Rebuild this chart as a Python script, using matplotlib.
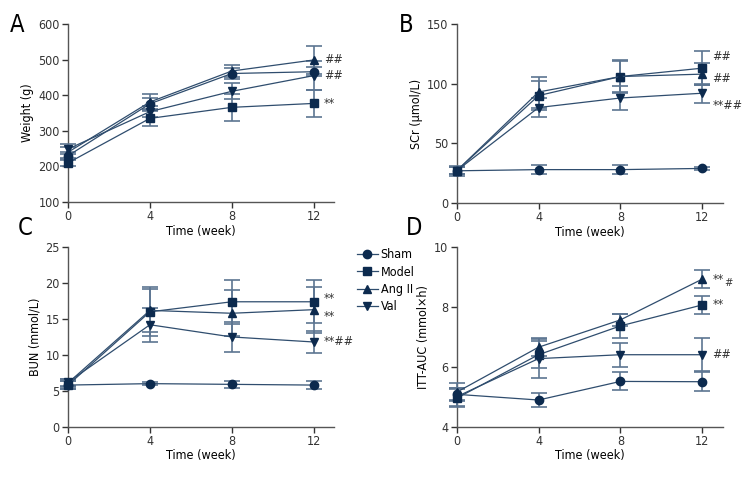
import matplotlib.pyplot as plt
import matplotlib
import numpy as np

matplotlib.rcParams['font.family'] = ['Liberation Sans Narrow', 'DejaVu Sans']
matplotlib.rcParams['font.stretch'] = 'condensed'

weeks = [0, 4, 8, 12]
groups = ['Sham', 'Model', 'Ang II', 'Val']
markers = {'Sham': 'o', 'Model': 's', 'Ang II': '^', 'Val': 'v'}

# Weight (g)
weight_mean = {'Sham': [230, 376, 461, 466],
               'Model': [210, 335, 366, 377],
               'Ang II': [240, 381, 468, 499],
               'Val': [249, 354, 411, 455]}
weight_err = {'Sham': [12, 15, 15, 12],
              'Model': [10, 22, 38, 39],
              'Ang II': [15, 22, 18, 38],
              'Val': [15, 15, 22, 40]}

# SCr (umol/L)
scr_mean = {'Sham': [27, 28, 28, 29],
            'Model': [27, 90, 106, 113],
            'Ang II': [27, 93, 106, 108],
            'Val': [27, 80, 88, 92]}
scr_err = {'Sham': [4, 4, 4, 1],
           'Model': [3, 12, 13, 14],
           'Ang II': [3, 13, 14, 9],
           'Val': [3, 8, 10, 8]}

# BUN (mmol/L)
bun_mean = {'Sham': [5.8, 6.0, 5.9, 5.8],
            'Model': [5.8, 16.0, 17.4, 17.4],
            'Ang II': [6.1, 16.2, 15.8, 16.3],
            'Val': [6.2, 14.2, 12.5, 11.8]}
bun_err = {'Sham': [0.6, 0.2, 0.5, 0.6],
           'Model': [0.5, 3.4, 3.1, 3.0],
           'Ang II': [0.5, 3.0, 3.2, 3.2],
           'Val': [0.5, 2.4, 2.1, 1.5]}

# ITT-AUC (mmol x h)
itt_mean = {'Sham': [5.08, 4.89, 5.51, 5.50],
            'Model': [4.95, 6.40, 7.36, 8.06],
            'Ang II': [5.15, 6.65, 7.56, 8.92],
            'Val': [5.00, 6.27, 6.40, 6.40]}
itt_err = {'Sham': [0.2, 0.22, 0.3, 0.32],
           'Model': [0.3, 0.45, 0.4, 0.3],
           'Ang II': [0.3, 0.3, 0.2, 0.3],
           'Val': [0.3, 0.65, 0.4, 0.55]}

# significance marks at week 12: (y, text)
weight_sig = [(500, '##'), (455, '##'), (377, '**')]
scr_sig = [(123, '##'), (104, '##'), (82, '**##')]
bun_sig = [(17.8, '**'), (15.3, '**'), (11.8, '**##')]
itt_sig = [(8.06, '**'), (6.4, '##')]

line_col = '#2f4d6e'
mark_col = '#0c2a4e'
err_col = '#5c7591'

fig = plt.figure(figsize=(7.56, 4.8), dpi=100)
pos = {'A': [0.090, 0.579, 0.352, 0.371],
       'B': [0.604, 0.577, 0.352, 0.373],
       'C': [0.090, 0.111, 0.352, 0.374],
       'D': [0.604, 0.111, 0.352, 0.375]}

panels = [
    ('A', weight_mean, weight_err, 'Weight (g)', (100, 600), [100, 200, 300, 400, 500, 600], weight_sig),
    ('B', scr_mean, scr_err, 'SCr (\u03bcmol/L)', (0, 150), [0, 50, 100, 150], scr_sig),
    ('C', bun_mean, bun_err, 'BUN (mmol/L)', (0, 25), [0, 5, 10, 15, 20, 25], bun_sig),
    ('D', itt_mean, itt_err, 'ITT-AUC (mmol\u00d7h)', (4, 10), [4, 6, 8, 10], itt_sig),
]

axes = {}
legend_lines = []
for name, means, errs, ylabel, ylim, yticks, sig in panels:
    ax = fig.add_axes(pos[name])
    axes[name] = ax
    for g in groups:
        eb = ax.errorbar(weeks, means[g], yerr=errs[g], color=line_col, ecolor=err_col,
                         elinewidth=1.2, capsize=6, capthick=1.2, linewidth=0.9,
                         marker=markers[g], markersize=6, mfc=mark_col, mec=mark_col,
                         clip_on=False, zorder=3, label=g)
        if name == 'C':
            legend_lines.append(eb[0])
    ax.set_xlim(0, 13)
    ax.set_ylim(*ylim)
    ax.set_xticks([0, 4, 8, 12])
    ax.set_yticks(yticks)
    ax.set_xlabel('Time (week)', fontsize=9, labelpad=1)
    ax.set_ylabel(ylabel, fontsize=9, labelpad=3)
    ax.tick_params(labelsize=9, length=4, width=1, colors='#333333', pad=2)
    for s in ['top', 'right']:
        ax.spines[s].set_visible(False)
    for s in ['left', 'bottom']:
        ax.spines[s].set_color('#555555')
        ax.spines[s].set_linewidth(1)
    for y, t in sig:
        ax.text(12.5, y, t, fontsize=9, color='#333333', va='center', ha='left')

# the '#' after ** in D sits lower
axes['D'].text(12.5, 8.92, '**', fontsize=9, color='#333333', va='center', ha='left')
axes['D'].text(13.05, 8.78, '#', fontsize=8, color='#333333', va='center', ha='left')

for name, (x, y) in {'A': (0.013, 0.948), 'B': (0.527, 0.948),
                     'C': (0.024, 0.525), 'D': (0.537, 0.525)}.items():
    fig.text(x, y, name, fontsize=17, color='black', va='center', ha='left')

fig.legend(legend_lines, groups, loc='upper left', bbox_to_anchor=(0.472, 0.483), frameon=False,
           fontsize=9, handlelength=1.7, handletextpad=0.2, labelspacing=0.35,
           borderpad=0, borderaxespad=0)

plt.savefig('out.png', dpi=100)
